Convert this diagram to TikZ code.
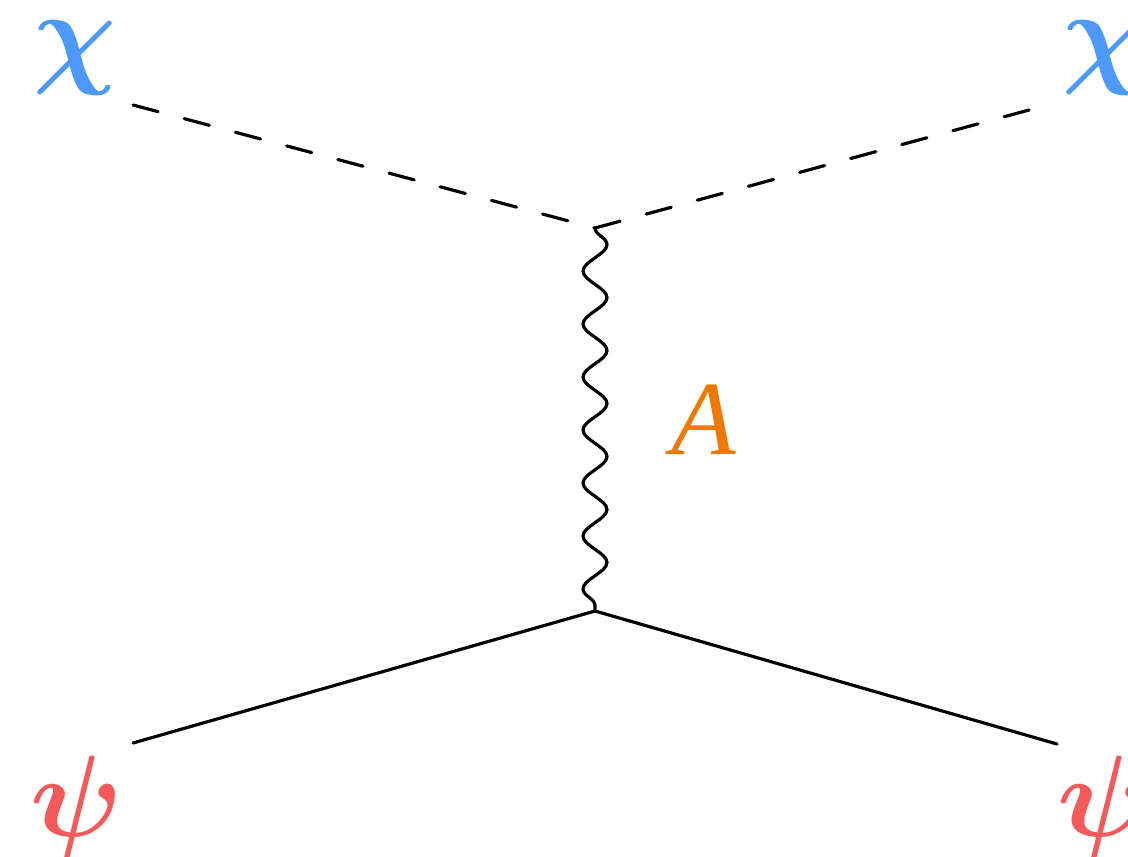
\documentclass[tikz,border=0pt]{standalone}
\usepackage{fontspec}
\setmainfont{Liberation Serif}
\usetikzlibrary{decorations.pathmorphing}
\definecolor{chiblue}{RGB}{77,153,255}
\definecolor{psired}{RGB}{245,90,90}
\definecolor{aorange}{RGB}{240,120,0}
\tikzset{
  scalar/.style={line width=1.8pt, dash pattern=on 0.52cm off 0.54cm},
  fermion/.style={line width=1.8pt},
  photon/.style={line width=1.8pt, decorate, decoration={snake, amplitude=0.24cm, segment length=1.06cm}},
  lbl/.style={inner sep=0pt, font=\Huge\boldmath, scale=2.65, transform shape},
  blbl/.style={inner sep=0pt, font=\fontsize{60}{62}\selectfont\itshape}
}
\begin{document}
\begin{tikzpicture}[x=0.02cm, y=-0.02cm, line cap=round, line join=round]
	\useasboundingbox (0,0) rectangle (1128,856);
	% vertices and outer ends
	\coordinate (v1) at (595,228);
	\coordinate (v2) at (595,611);
	\coordinate (i1) at (133,105);
	\coordinate (f1) at (1040,107);
	\coordinate (i2) at (133,743);
	\coordinate (f2) at (1057,744);
	% labels
	\foreach \nm/\px/\py/\col/\sym in {chiL/75/58/chiblue/\chi, chiR/1104/58/chiblue/\chi, psiL/77/808/psired/\psi, psiR/1104/808/psired/\psi}
		\node[lbl, text=\col] (\nm) at (\px,\py) {$\sym$};
	\node[blbl, text=aorange] (boson) at (704,420) {A};
	% lines
	\draw[scalar] (i1) -- (v1);
	\draw[scalar] (v1) -- (f1);
	\draw[photon] (v1) -- (v2);
	\draw[fermion] (i2) -- (v2) -- (f2);
\end{tikzpicture}
\end{document}
